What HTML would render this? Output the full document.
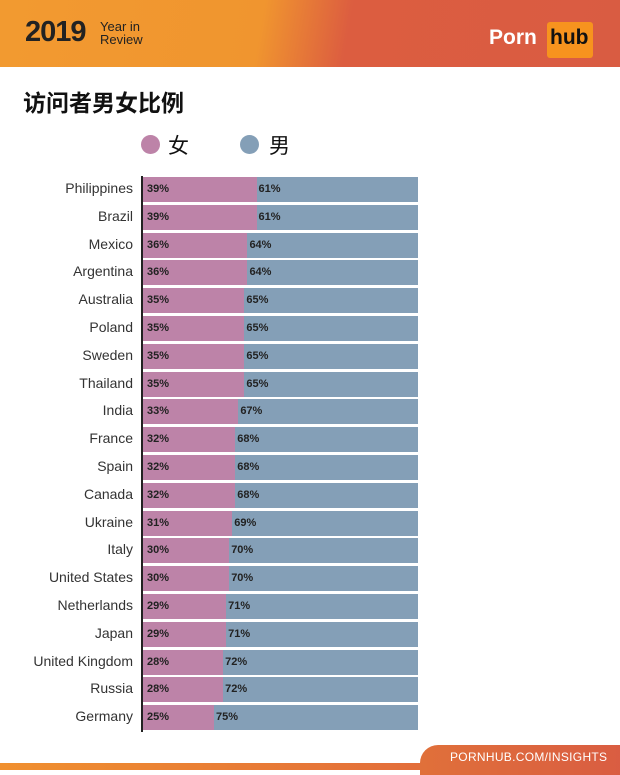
<!DOCTYPE html><html><head><meta charset="utf-8"><style>
body{margin:0;width:620px;height:770px;position:relative;background:#fff;font-family:"Liberation Sans","Noto Sans CJK SC",sans-serif;overflow:hidden}
.hdr{position:absolute;left:0;top:0;width:620px;height:67px;background:linear-gradient(100deg,#f29a30 0%,#f0952f 42%,#dc5d40 56%,#d95c42 100%)}
.row{position:absolute;left:0;height:25px}
.lab{position:absolute;right:487px;width:140px;text-align:right;font-size:14px;color:#333;line-height:23px}
.f{position:absolute;left:143px;height:25px;background:#bd83a8}
.m{position:absolute;height:25px;background:#849fb7}
.p{position:absolute;font-size:11px;font-weight:bold;color:#222;line-height:25px}
</style></head><body>
<div class="hdr">
<div style="position:absolute;left:25px;top:16px;font-size:29px;font-weight:bold;color:#222;letter-spacing:-1px">2019</div>
<div style="position:absolute;left:100px;top:20px;font-size:13px;line-height:13px;color:#222">Year in<br>Review</div>
<div style="position:absolute;left:489px;top:26px;font-size:21px;font-weight:bold;color:#fff">Porn</div>
<div style="position:absolute;left:547px;top:22px;width:46px;height:36px;background:#f7931e;border-radius:3px;"></div>
<div style="position:absolute;left:550px;top:26px;font-size:21px;font-weight:bold;color:#111">hub</div>
</div>
<div style="position:absolute;left:23px;top:84px;font-size:23px;font-weight:bold;color:#111">访问者男女比例</div>
<div style="position:absolute;left:141px;top:135px;width:19px;height:19px;border-radius:50%;background:#bd83a8"></div>
<div style="position:absolute;left:168px;top:130px;font-size:21px;color:#111">女</div>
<div style="position:absolute;left:240px;top:135px;width:19px;height:19px;border-radius:50%;background:#849fb7"></div>
<div style="position:absolute;left:269px;top:130px;font-size:21px;color:#111">男</div>
<div style="position:absolute;left:141px;top:176px;width:2px;height:556px;background:#222"></div>
<div id="c"></div>
<div style="position:absolute;left:0;top:763px;width:620px;height:7px;background:linear-gradient(90deg,#f0902f,#dc5d40)"></div>
<div style="position:absolute;left:420px;top:745px;width:210px;height:30px;background:linear-gradient(90deg,#e0703a,#d95c42);border-top-left-radius:18px"></div>
<div style="position:absolute;left:450px;top:750px;font-size:12px;color:#fff;letter-spacing:0.3px">PORNHUB.COM/INSIGHTS</div>
<script>
var d=[["Philippines",39],["Brazil",39],["Mexico",36],["Argentina",36],["Australia",35],["Poland",35],["Sweden",35],["Thailand",35],["India",33],["France",32],["Spain",32],["Canada",32],["Ukraine",31],["Italy",30],["United States",30],["Netherlands",29],["Japan",29],["United Kingdom",28],["Russia",28],["Germany",25]];
var h="";d.forEach(function(r,i){var y=177+i*27.8,e=138+r[1]*3.04;
h+='<div class="row" style="top:'+y+'px;width:620px"><div class="lab">'+r[0]+'</div><div class="f" style="width:'+(e-143)+'px"></div><div class="m" style="left:'+e+'px;width:'+(418-e)+'px"></div><div class="p" style="left:147px">'+r[1]+'%</div><div class="p" style="left:'+(e+2)+'px">'+(100-r[1])+'%</div></div>';});
document.getElementById("c").innerHTML=h;
</script>
</body></html>
